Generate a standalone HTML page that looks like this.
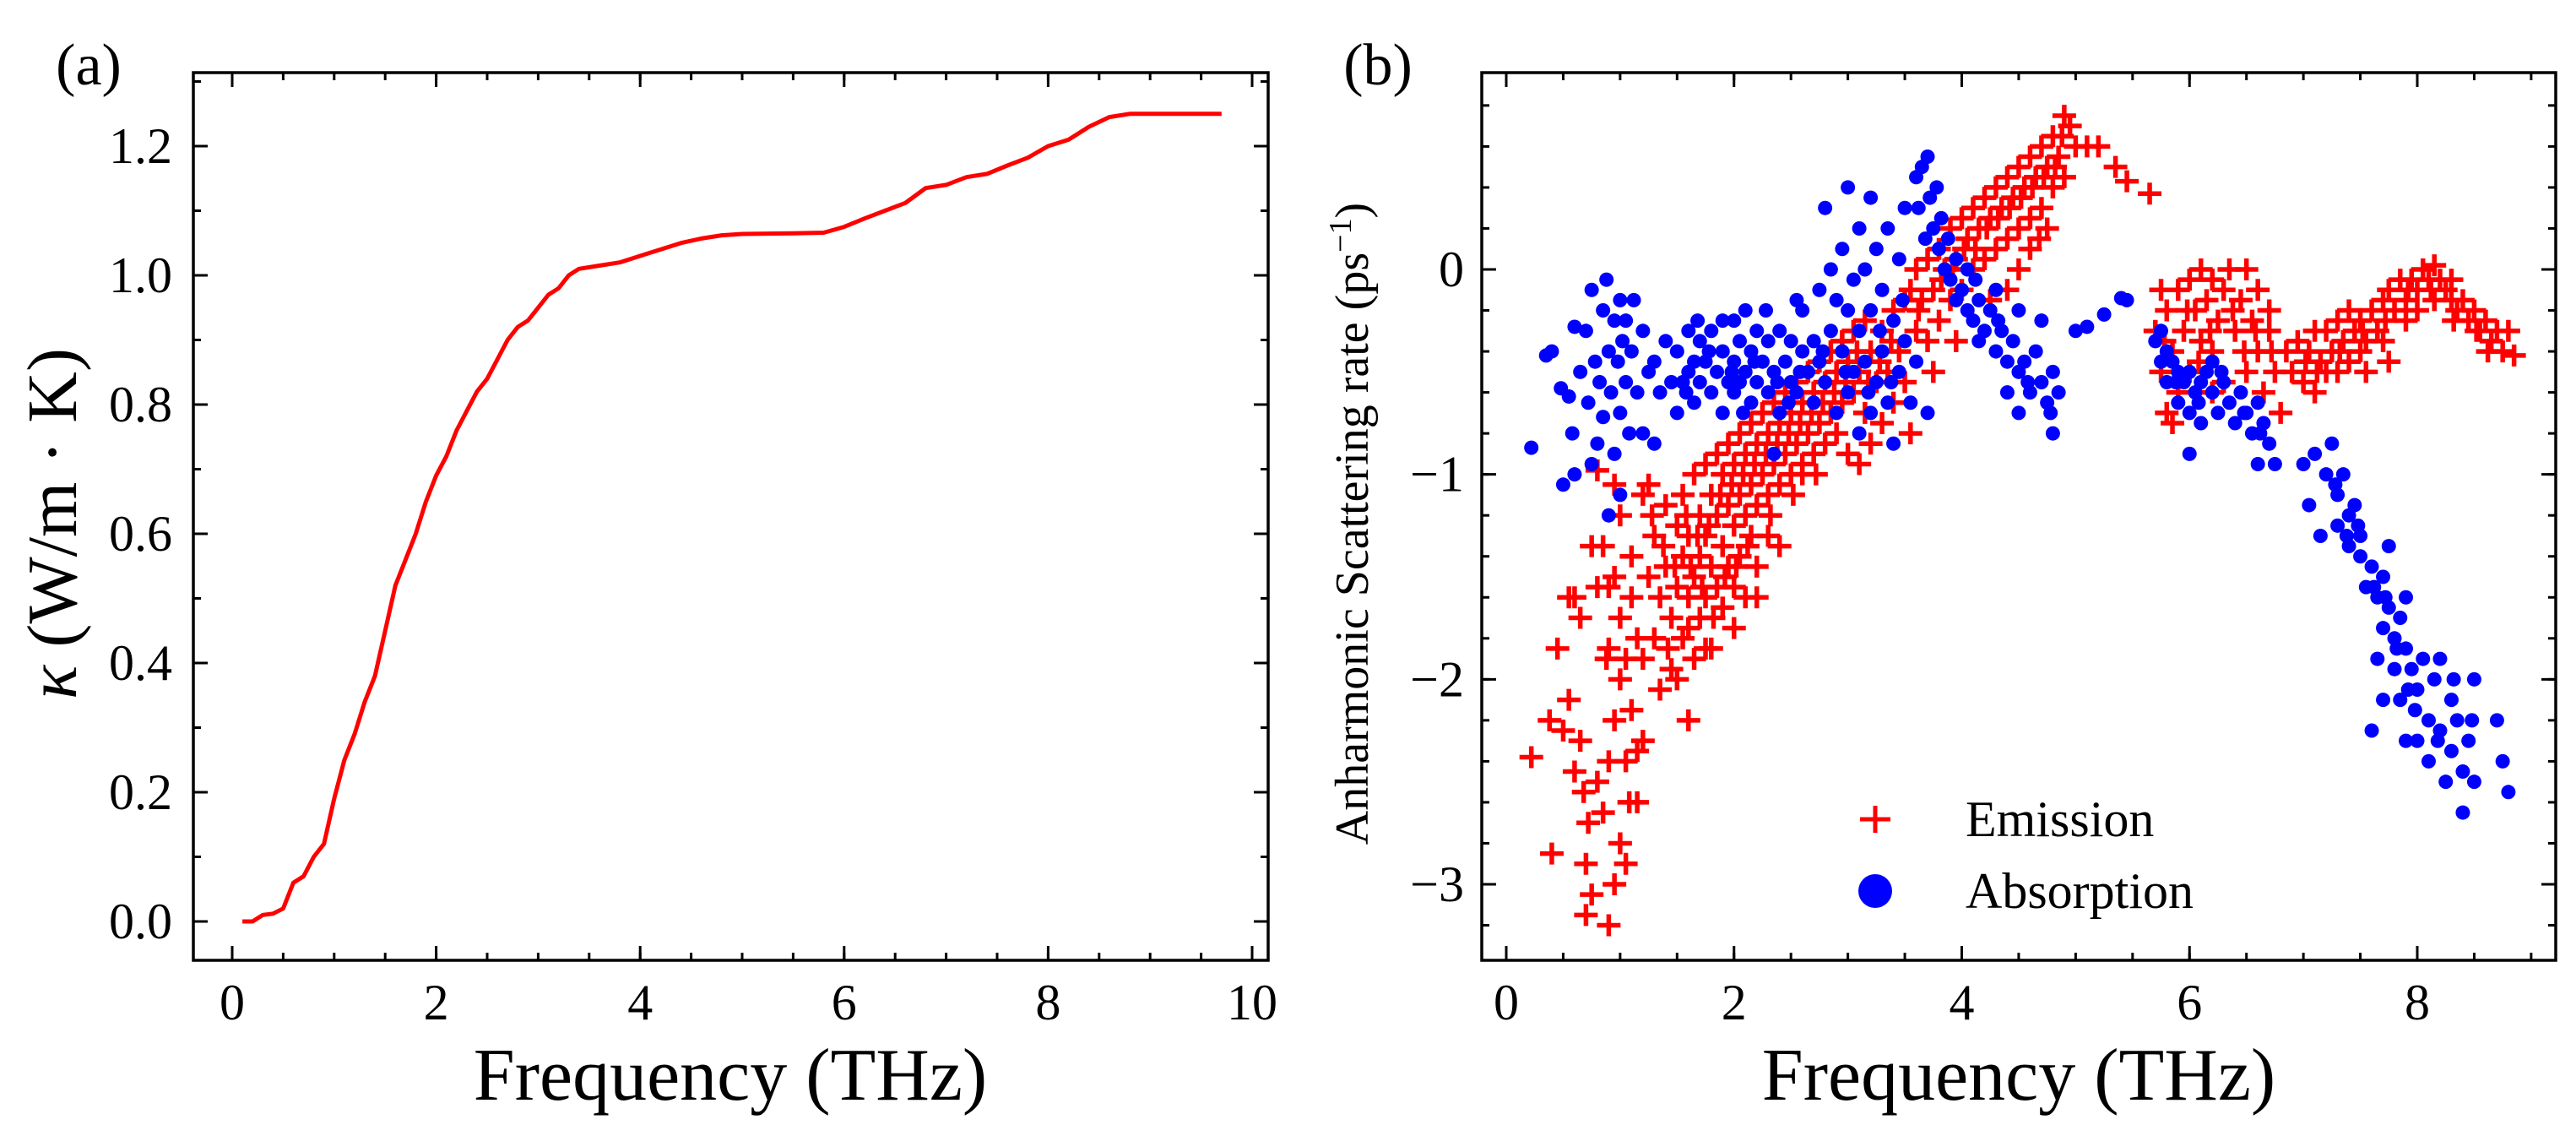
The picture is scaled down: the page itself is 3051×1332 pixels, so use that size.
<!DOCTYPE html>
<html><head><meta charset="utf-8"><style>
html,body{margin:0;padding:0;background:#fff;width:3051px;height:1332px;overflow:hidden}
svg{display:block;font-family:"Liberation Serif","DejaVu Serif",serif}
</style></head><body>
<svg id="fig" width="3051" height="1332" viewBox="0 0 3051 1332" xmlns="http://www.w3.org/2000/svg">
<rect width="3051" height="1332" fill="#fff"/>
<g id="pa"></g>
<g id="pb"></g>
</svg>
<script>
// Panel (a) data
const kappaFreq = [0.1,0.2,0.3,0.4,0.5,0.6,0.7,0.8,0.9,1.0,1.1,1.2,1.3,1.4,1.5,1.6,1.7,1.8,1.9,2.0,2.1,2.2,2.3,2.4,2.5,2.6,2.7,2.8,2.9,3.0,3.1,3.2,3.3,3.4,3.6,3.8,4.0,4.2,4.4,4.6,4.8,5.0,5.5,5.8,6.0,6.2,6.4,6.6,6.8,7.0,7.2,7.4,7.6,7.8,8.0,8.2,8.4,8.6,8.8,9.7];
const kappaVal = [0,0,0.01,0.012,0.02,0.06,0.07,0.1,0.12,0.19,0.25,0.29,0.34,0.38,0.45,0.52,0.56,0.6,0.65,0.69,0.72,0.76,0.79,0.82,0.84,0.87,0.9,0.92,0.93,0.95,0.97,0.98,1.0,1.01,1.015,1.02,1.03,1.04,1.05,1.057,1.062,1.064,1.065,1.066,1.075,1.088,1.1,1.112,1.135,1.14,1.152,1.157,1.17,1.182,1.2,1.21,1.23,1.245,1.25,1.25];
const aXTicks = [0,2,4,6,8,10];
const aYTicks = [0.0,0.2,0.4,0.6,0.8,1.0,1.2];
const aXTickLabels = ["0","2","4","6","8","10"];
const aYTickLabels = ["0.0","0.2","0.4","0.6","0.8","1.0","1.2"];
// Panel (b) data
const emissionX = [0.22,0.38,0.4,0.45,0.5,0.55,0.55,0.6,0.6,0.65,0.65,0.68,0.7,0.7,0.72,0.75,0.75,0.8,0.8,0.85,0.85,0.88,0.9,0.9,0.9,0.95,0.95,0.95,1.0,1.0,1.0,1.0,1.05,1.05,1.05,1.08,1.1,1.1,1.1,1.15,1.15,1.15,1.2,1.2,1.2,0.8,0.95,0.9,
1.25,1.25,1.3,1.3,1.35,1.35,1.4,1.4,1.45,1.45,1.5,1.5,1.5,1.55,1.55,1.55,1.6,1.6,1.6,1.65,1.65,1.65,1.7,1.7,1.7,1.75,1.75,1.75,1.8,1.8,1.8,1.85,1.85,1.85,1.9,1.9,1.9,1.95,1.95,1.95,2.0,2.0,2.0,2.05,2.05,2.05,2.1,2.1,2.1,2.15,2.15,2.15,2.2,2.2,2.2,2.25,2.25,2.3,2.3,2.3,2.35,2.35,2.4,2.4,2.45,2.45,2.5,2.5,2.55,2.55,2.6,2.6,2.65,2.65,2.7,2.7,2.75,2.75,2.8,2.8,2.85,2.85,2.9,2.9,2.95,2.95,3.0,3.0,3.05,3.05,3.1,3.1,3.15,3.15,3.2,3.2,3.25,3.3,3.3,3.35,3.4,3.4,3.45,3.5,3.5,3.55,2.6,2.2,1.75,2.4,1.6,2.0,
3.55,3.6,3.6,3.65,3.7,3.7,3.75,3.8,3.8,3.85,3.9,3.9,3.95,4.0,4.0,4.05,4.1,4.1,4.15,4.2,4.2,4.25,4.3,4.3,4.35,4.4,4.4,4.45,4.5,4.5,4.55,4.6,4.6,4.65,4.7,4.7,4.75,4.8,4.8,4.85,4.9,4.9,4.95,5.0,5.1,5.2,5.35,5.45,5.65,4.5,4.4,4.6,4.75,3.75,3.95,4.25,
5.7,5.75,5.75,5.8,5.8,5.85,5.9,5.9,5.95,6.0,6.0,6.05,6.1,6.1,6.15,6.2,6.2,6.25,6.3,6.3,6.35,6.4,6.45,6.5,6.5,6.55,6.6,6.6,6.65,6.7,6.7,6.75,6.8,6.2,5.85,
6.85,6.9,6.95,7.0,7.05,7.1,7.15,7.2,7.2,7.25,7.3,7.3,7.35,7.4,7.4,7.45,7.5,7.5,7.55,7.6,7.65,7.7,7.7,7.75,7.8,7.85,7.9,7.9,7.95,8.0,8.0,8.05,8.1,8.15,8.15,8.2,8.25,8.3,8.3,8.35,8.4,8.45,8.5,8.55,8.6,8.65,8.7,8.75,8.8,8.85,7.1,7.55,7.75,
1.28,1.38,1.48,1.58,1.68,1.78,1.88,1.98,2.08,2.18,2.28,2.38,2.48,2.58,2.68,2.78,2.88,2.98,3.08,3.18,3.28,3.38,1.42,1.62,1.72,1.92,2.12,2.32,2.52,2.72,1.82,2.02,
3.62,3.82,4.02,4.22,4.42,4.62,4.82,4.72,4.52,4.32,4.12,3.92,4.88,4.68,
5.78,5.98,6.18,6.38,6.58,6.08,6.48,6.72,
7.12,7.32,7.52,7.72,7.92,8.12,8.32,8.52,8.62,7.02];
const emissionY = [-2.38,-2.2,-2.85,-1.85,-2.25,-1.6,-2.1,-2.45,-1.6,-1.7,-2.3,-2.55,-3.15,-2.9,-2.7,-3.05,-1.35,-1.55,-2.5,-2.65,-1.35,-1.9,-2.4,-3.2,-1.85,-3.0,-2.2,-1.5,-2.8,-2.0,-1.7,-1.2,-2.9,-2.4,-1.9,-2.6,-2.15,-1.6,-1.4,-2.35,-1.8,-2.6,-2.3,-1.9,-1.1,-0.98,-1.05,-1.55,
-1.05,-1.5,-1.3,-1.8,-1.6,-2.05,-1.15,-1.45,-1.7,-1.95,-1.25,-1.55,-2.0,-1.1,-1.4,-1.8,-1.3,-1.6,-2.2,-1.0,-1.5,-1.9,-1.2,-1.4,-1.7,-0.95,-1.3,-1.6,-1.1,-1.45,-1.85,-0.9,-1.2,-1.55,-1.0,-1.35,-1.65,-0.85,-1.15,-1.45,-0.95,-1.25,-1.55,-0.8,-1.1,-1.4,-0.9,-1.2,-1.6,-0.75,-1.05,-1.3,-0.85,-1.15,-1.45,-0.7,-1.0,-0.8,-1.1,-1.3,-0.65,-0.95,-0.75,-1.05,-0.6,-0.9,-0.7,-1.0,-0.55,-0.85,-0.65,-0.95,-0.5,-0.8,-0.6,-0.9,-0.45,-0.75,-0.55,-0.85,-0.4,-0.7,-0.5,-0.8,-0.35,-0.65,-0.45,-0.9,-0.3,-0.6,-0.5,-0.95,-0.25,-0.7,-0.4,-0.85,-0.55,-0.3,-0.75,-0.5,-0.2,-0.65,-0.4,-0.55,-0.15,-0.8,-1.0,-1.6,-1.85,-1.35,-1.75,-1.75,
-0.1,0.0,-0.3,-0.15,0.05,-0.35,-0.1,0.1,-0.25,0.0,0.2,-0.15,0.05,0.25,-0.1,0.15,0.3,0.0,0.2,0.35,0.05,0.25,0.4,0.1,0.3,0.45,0.15,0.35,0.5,0.2,0.4,0.55,0.25,0.45,0.6,0.3,0.5,0.65,0.4,0.55,0.75,0.45,0.7,0.6,0.6,0.6,0.5,0.43,0.37,0.0,-0.1,0.1,0.2,-0.5,-0.35,-0.15,
-0.3,-0.5,-0.1,-0.7,-0.2,-0.4,-0.1,-0.6,-0.3,-0.05,-0.5,-0.2,-0.35,0.0,-0.15,-0.05,-0.4,-0.25,-0.1,-0.55,0.0,-0.3,-0.15,0.0,-0.5,-0.25,-0.4,-0.1,-0.6,-0.3,-0.2,-0.5,-0.7,-0.6,-0.75,
-0.4,-0.5,-0.35,-0.55,-0.4,-0.6,-0.45,-0.3,-0.5,-0.4,-0.25,-0.5,-0.35,-0.2,-0.45,-0.3,-0.25,-0.4,-0.35,-0.2,-0.3,-0.15,-0.35,-0.1,-0.2,-0.05,-0.15,-0.25,-0.05,-0.1,-0.2,0.0,-0.05,0.02,-0.15,-0.05,-0.1,-0.15,-0.05,-0.2,-0.15,-0.25,-0.2,-0.3,-0.25,-0.35,-0.3,-0.4,-0.3,-0.42,-0.3,-0.5,-0.45,
-1.2,-1.35,-1.45,-1.2,-1.3,-1.25,-1.1,-1.05,-1.0,-0.95,-0.9,-0.85,-0.8,-0.75,-0.7,-0.65,-0.6,-0.55,-0.4,-0.55,-0.45,-0.35,-1.85,-1.45,-1.55,-1.5,-1.35,-1.2,-1.1,-1.0,-1.7,-1.45,
-0.2,-0.05,0.1,0.2,0.3,0.4,0.5,0.45,0.35,0.25,0.1,0.0,0.65,0.15,
-0.35,-0.2,-0.3,-0.2,-0.3,-0.45,-0.4,-0.4,
-0.5,-0.4,-0.3,-0.25,-0.1,-0.1,-0.25,-0.3,-0.4,-0.45];
const absorptionX = [0.22,0.35,0.4,0.48,0.5,0.55,0.58,0.6,0.6,0.65,0.7,0.72,0.75,0.75,0.78,0.8,0.82,0.85,0.85,0.88,0.9,0.9,0.92,0.95,0.95,0.98,1.0,1.0,1.0,1.02,1.05,1.05,1.08,1.1,1.12,1.15,1.2,1.2,1.25,1.3,1.3,1.35,1.4,1.45,1.5,
1.5,1.55,1.6,1.6,1.65,1.65,1.7,1.7,1.75,1.8,1.8,1.85,1.9,1.9,1.95,2.0,2.0,2.0,2.05,2.05,2.1,2.1,2.15,2.15,2.2,2.2,2.25,2.3,2.3,2.35,2.4,2.4,2.45,2.5,2.5,2.55,2.6,2.6,2.65,2.7,2.7,2.75,2.75,2.8,2.8,2.85,2.85,2.9,2.9,2.95,2.95,3.0,3.0,3.0,3.05,3.05,3.1,3.1,3.1,3.15,3.15,3.2,3.2,3.2,3.25,3.25,3.3,3.3,3.35,3.35,3.4,3.4,3.45,3.45,3.5,3.5,3.55,3.6,3.7,2.35,2.55,1.9,
3.6,3.62,3.65,3.68,3.7,3.72,3.75,3.78,3.8,3.82,3.85,3.88,3.9,3.95,3.95,4.0,4.05,4.05,4.1,4.15,4.15,4.2,4.25,4.3,4.35,4.4,4.4,4.45,4.5,4.5,4.55,4.6,4.65,4.7,4.75,4.8,4.85,4.8,4.3,4.5,4.7,
5.0,5.1,5.25,5.4,5.45,
5.7,5.75,5.75,5.8,5.8,5.85,5.9,5.9,5.95,6.0,6.0,6.05,6.1,6.1,6.15,6.2,6.2,6.25,6.3,6.35,6.4,6.45,6.5,6.55,6.6,6.65,6.7,6.6,6.75,6.0,
7.0,7.05,7.1,7.15,7.2,7.25,7.3,7.3,7.35,7.4,7.4,7.45,7.5,7.5,7.55,7.6,7.65,7.7,7.7,7.75,7.8,7.8,7.85,7.85,7.9,7.9,7.95,8.0,8.0,8.05,8.1,8.1,8.15,8.2,8.25,8.3,8.3,8.35,8.4,8.4,8.45,8.5,8.5,7.6,7.7,7.9,8.2,8.7,8.75,8.8,7.75,7.65,
1.58,1.78,1.98,2.18,2.38,2.58,2.78,2.98,3.18,3.38,2.08,2.48,1.68,2.28,3.28,3.48,4.12,4.32,4.58,4.78,5.88,6.08,6.28,6.48,6.62,7.28,7.38,7.48,7.62,7.82,7.98,8.18,8.32,8.48,7.72,7.92];
const absorptionY = [-0.87,-0.42,-0.4,-0.58,-1.05,-0.62,-0.8,-0.28,-1.0,-0.5,-0.3,-0.65,-0.1,-0.95,-0.45,-0.85,-0.55,-0.2,-0.72,-0.05,-0.4,-1.2,-0.6,-0.25,-0.9,-0.45,-0.15,-0.7,-1.1,-0.35,-0.55,-0.25,-0.8,-0.4,-0.15,-0.6,-0.3,-0.8,-0.5,-0.45,-0.85,-0.6,-0.35,-0.55,-0.7,
-0.4,-0.55,-0.3,-0.5,-0.45,-0.65,-0.35,-0.55,-0.45,-0.6,-0.3,-0.5,-0.4,-0.7,-0.55,-0.25,-0.45,-0.6,-0.35,-0.55,-0.2,-0.5,-0.4,-0.65,-0.3,-0.55,-0.45,-0.35,-0.6,-0.5,-0.3,-0.7,-0.45,-0.55,-0.35,-0.6,-0.4,-0.2,-0.5,-0.35,-0.65,-0.1,-0.45,0.3,-0.55,0.0,-0.3,-0.15,-0.7,0.1,-0.4,0.4,-0.2,-0.6,-0.05,-0.5,0.2,-0.3,-0.8,0.0,-0.45,0.35,-0.2,-0.7,0.1,-0.55,-0.1,-0.4,0.2,-0.65,-0.25,-0.85,0.05,-0.5,0.3,-0.35,-0.65,-0.45,-0.7,-0.9,-0.15,-0.25,
0.45,0.3,0.5,0.15,0.55,0.35,0.2,0.4,0.1,0.25,0.0,0.15,-0.05,0.05,-0.15,-0.1,-0.2,0.0,-0.25,-0.15,-0.35,-0.3,-0.2,-0.4,-0.3,-0.45,-0.6,-0.35,-0.5,-0.7,-0.45,-0.6,-0.4,-0.55,-0.65,-0.5,-0.6,-0.8,-0.1,-0.2,-0.25,
-0.3,-0.28,-0.22,-0.14,-0.15,
-0.35,-0.3,-0.45,-0.4,-0.55,-0.45,-0.5,-0.65,-0.55,-0.5,-0.7,-0.6,-0.55,-0.75,-0.5,-0.6,-0.45,-0.7,-0.55,-0.65,-0.75,-0.6,-0.7,-0.8,-0.65,-0.75,-0.85,-0.95,-0.95,-0.9,
-0.95,-1.15,-0.9,-1.3,-1.0,-0.85,-1.1,-1.25,-1.0,-1.2,-1.35,-1.15,-1.4,-1.3,-1.55,-1.45,-1.6,-1.5,-1.75,-1.65,-1.8,-1.95,-1.7,-2.1,-1.85,-2.3,-1.95,-2.05,-2.3,-1.9,-2.2,-2.4,-2.0,-2.25,-2.5,-2.1,-2.35,-2.2,-2.45,-2.65,-2.3,-2.0,-2.5,-2.25,-2.1,-1.6,-1.9,-2.2,-2.4,-2.55,-1.35,-1.9,
-0.6,-0.4,-0.5,-0.45,-0.55,-0.5,-0.4,-0.5,-0.6,-0.55,-0.7,-0.65,-0.25,-0.2,-0.3,-0.15,-0.05,-0.25,-0.55,-0.7,-0.55,-0.65,-0.5,-0.7,-0.8,-1.05,-1.3,-1.25,-1.55,-1.85,-2.15,-2.3,-2.0,-2.2,-1.6,-2.05];
const bXTicks = [0,2,4,6,8];
const bYTicks = [0,-1,-2,-3];
const bXTickLabels = ["0","2","4","6","8"];
const bYTickLabels = ["0","\u22121","\u22122","\u22123"];

const NS = "http://www.w3.org/2000/svg";
function mk(parent, tag, attrs, text) {
  const e = document.createElementNS(NS, tag);
  for (const k in attrs) e.setAttribute(k, attrs[k]);
  if (text !== undefined) e.textContent = text;
  parent.appendChild(e);
  return e;
}
function lin(d0, d1, p0, p1) { return v => p0 + (v - d0) * (p1 - p0) / (d1 - d0); }

const pa = document.getElementById('pa');
const ax = lin(0, 10, 275, 1483), ay = lin(0, 1.2, 1091, 173);
const A = {l:229, r:1502, t:86, b:1137};
function frameTicks(g, box, xs, ys, xMinor, yMinor) {
  const tk = mk(g, 'g', {stroke:'#000','stroke-width':3});
  
  
  xMinor.forEach(x => { mk(tk,'line',{x1:x,x2:x,y1:box.b,y2:box.b-9}); mk(tk,'line',{x1:x,x2:x,y1:box.t,y2:box.t+9}); });
  xs.forEach(x => { mk(tk,'line',{x1:x,x2:x,y1:box.b,y2:box.b-17}); mk(tk,'line',{x1:x,x2:x,y1:box.t,y2:box.t+17}); });
  yMinor.forEach(y => { mk(tk,'line',{x1:box.l,x2:box.l+9,y1:y,y2:y}); mk(tk,'line',{x1:box.r,x2:box.r-9,y1:y,y2:y}); });
  ys.forEach(y => { mk(tk,'line',{x1:box.l,x2:box.l+17,y1:y,y2:y}); mk(tk,'line',{x1:box.r,x2:box.r-17,y1:y,y2:y}); });
  const fr = mk(g, 'rect', {x:box.l,y:box.t,width:box.r-box.l,height:box.b-box.t,fill:'none',stroke:'#000','stroke-width':3.5});
  
  
}
{
  const xm = []; for (let v = 0; v <= 10.01; v += 0.5) xm.push(ax(v));
  const ym = []; for (let v = 0; v <= 1.31; v += 0.1) if (ay(v) > A.t) ym.push(ay(v));
  const pts = kappaFreq.map((f,i) => ax(f).toFixed(1) + ',' + ay(kappaVal[i]).toFixed(1)).join(' ');
  const line = mk(pa, 'polyline', {points:pts, fill:'none', stroke:'#ff0000', 'stroke-width':5, 'stroke-linejoin':'round'});
  
  
  frameTicks(pa, A, aXTicks.map(ax), aYTicks.map(ay), xm, ym);
  aXTicks.forEach((v,i) => {
    const t = mk(pa,'text',{x:ax(v),y:1207,'font-size':60,'text-anchor':'middle'}, aXTickLabels[i]);
    
    
  });
  aYTicks.forEach((v,i) => {
    const t = mk(pa,'text',{x:204,y:ay(v)+20,'font-size':60,'text-anchor':'end'}, aYTickLabels[i]);
    
    
  });
}
</script>
<script>
const pb = document.getElementById('pb');
const bx = lin(0, 8, 1784, 2863), by = lin(0, -3, 319, 1047);
const B = {l:1755, r:3027, t:86, b:1137};
{
  const xm = []; for (let v = 0; v <= 9.01; v += 0.5) if (bx(v) < B.r) xm.push(bx(v));
  const ym = []; for (let v = -3.2; v <= 0.81; v += 0.2) ym.push(by(v));
  const eg = mk(pb, 'g', {stroke:'#ff0000', 'stroke-width':5.5});
  
  
  emissionX.forEach((x,i) => {
    const cx = bx(x), cy = by(emissionY[i]), s = 14;
    const p = mk(eg, 'path', {d:`M${cx-s},${cy}H${cx+s}M${cx},${cy-s+1}V${cy+s-1}`});
    
    
  });
  const ag = mk(pb, 'g', {fill:'#0000ff'});
  
  
  absorptionX.forEach((x,i) => {
    const c = mk(ag, 'circle', {cx:bx(x), cy:by(absorptionY[i]), r:8.5});
    
    
  });
  frameTicks(pb, B, bXTicks.map(bx), bYTicks.map(by), xm, ym);
  bXTicks.forEach((v,i) => {
    const t = mk(pb,'text',{x:bx(v),y:1207,'font-size':60,'text-anchor':'middle'}, bXTickLabels[i]);
    
    
  });
  bYTicks.forEach((v,i) => {
    const t = mk(pb,'text',{x:1734,y:by(v)+20,'font-size':60,'text-anchor':'end'}, bYTickLabels[i]);
    
    
  });
}
</script>
<script>
const svg = document.getElementById('fig');
function label(txt, attrs, name) {
  const t = mk(svg, 'text', attrs, txt);
  
  
  return t;
}
label('(a)', {x:105, y:100, 'font-size':70, 'text-anchor':'middle'}, 'panel-a-label');
label('(b)', {x:1632, y:100, 'font-size':70, 'text-anchor':'middle'}, 'panel-b-label');
label('Frequency (THz)', {x:865, y:1302, 'font-size':88, 'text-anchor':'middle'}, 'a-x-axis-title');
label('Frequency (THz)', {x:2391, y:1302, 'font-size':88, 'text-anchor':'middle'}, 'b-x-axis-title');
const ya = label('', {transform:'translate(90,620) rotate(-90)', 'font-size':84, 'text-anchor':'middle'}, 'a-y-axis-title');
mk(ya, 'tspan', {'font-style':'italic'}, 'κ');
mk(ya, 'tspan', {}, ' (W/m · K)');
const yb = label('', {transform:'translate(1620,620) rotate(-90)', 'font-size':56, 'text-anchor':'middle'}, 'b-y-axis-title');
mk(yb, 'tspan', {}, 'Anharmonic Scattering rate (ps');
mk(yb, 'tspan', {dy:-20, 'font-size':38}, '−1');
mk(yb, 'tspan', {dy:20}, ')');
const lg = mk(svg, 'g', {});


const lp = mk(lg, 'path', {d:'M2203,970H2239M2221,954V986', stroke:'#ff0000', 'stroke-width':5});


const le = mk(lg, 'text', {x:2328, y:990, 'font-size':60}, 'Emission');


const lc = mk(lg, 'circle', {cx:2221, cy:1055, r:20, fill:'#0000ff'});


const la = mk(lg, 'text', {x:2328, y:1075, 'font-size':60}, 'Absorption');


</script>
</body></html>
